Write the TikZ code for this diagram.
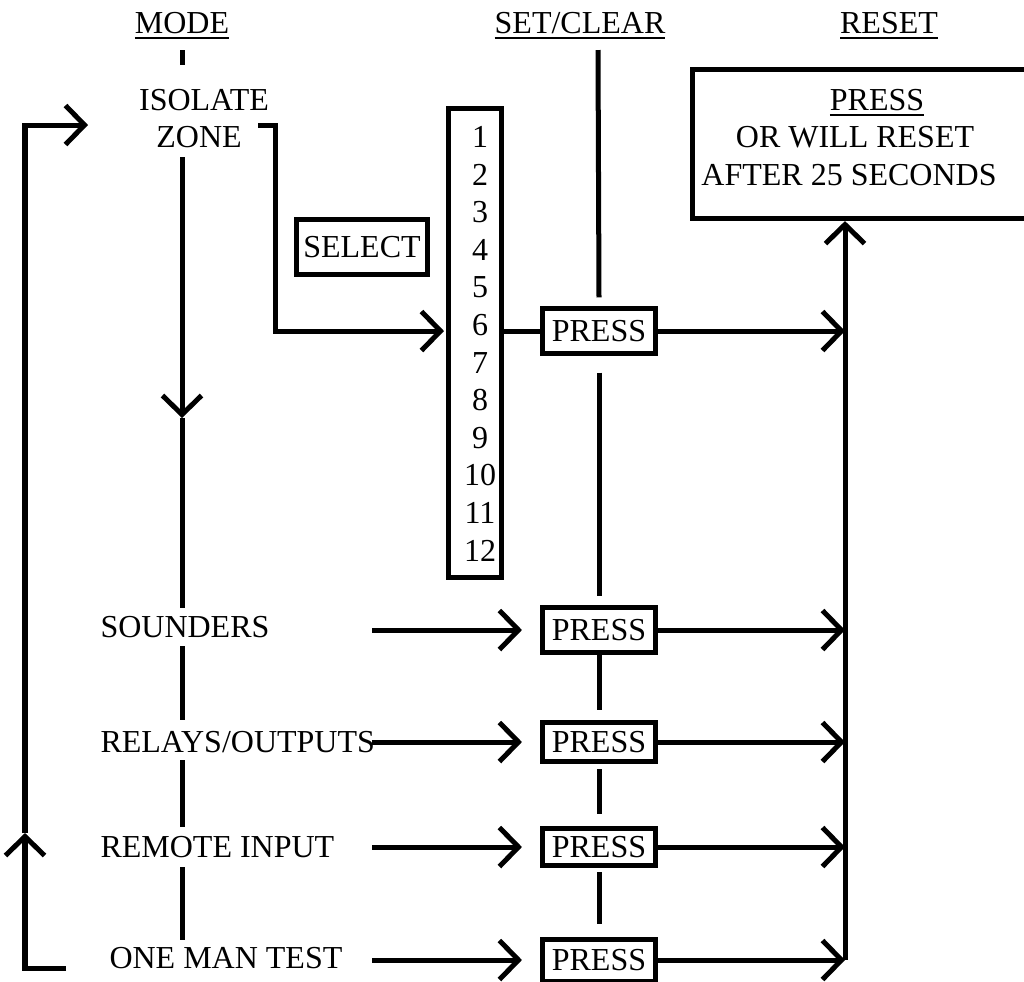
\documentclass[tikz,border=0pt]{standalone}
\usepackage{fontspec}
\setmainfont{Liberation Serif}
\usetikzlibrary{arrows.meta}
\newcommand\myul[1]{\setbox0\hbox{#1}\rlap{\rule[-1.5pt]{\wd0}{0.55pt}}\box0}
\begin{document}
\begin{tikzpicture}[x=0.01cm,y=-0.01cm,line width=0.05cm,
  barb/.tip={Straight Barb[length=0.19cm,width=0.39cm]},
  txt/.style={inner sep=0pt,text height=6pt,text depth=0pt,font=\fontsize{9.1}{10.6}\selectfont},
  boxst/.style={draw,line width=0.05cm,inner sep=0pt},
  pbox/.style={boxst,txt,minimum width=1.13cm}]
\useasboundingbox (0,0) rectangle (1024,981);
% headers
\node[txt] (mode) at (182,23) {\myul{MODE}};
\node[txt] (setclear) at (580,23) {\myul{SET/CLEAR}};
\node[txt] (resetH) at (889,23) {\myul{RESET}};
% mode labels
\node[txt] (iso) at (204,100) {ISOLATE};
\node[txt] (zone) at (199,137) {ZONE};
\node[txt,anchor=west] (snd) at (98,627) {SOUNDERS};
\node[txt,anchor=west] (rel) at (98,742) {RELAYS/OUTPUTS};
\node[txt,anchor=west] (rem) at (98,847) {REMOTE INPUT};
\node[txt,anchor=west] (omt) at (107,958) {ONE MAN TEST};
% select box
\node[boxst,txt,minimum width=1.30cm,minimum height=0.54cm] (sel) at (362,247) {SELECT};
% numbers box
\node[boxst,minimum width=0.53cm,minimum height=4.69cm] (nums) at (475,343) {};
\foreach \n [count=\i] in {1,...,12}
  \node[txt] (n\n) at (480,{137+37.6*(\i-1)}) {\n};
% press boxes
\node[pbox,minimum height=0.44cm] (p1) at (599,331) {PRESS};
\node[pbox,minimum height=0.45cm] (p2) at (599,630) {PRESS};
\node[pbox,minimum height=0.39cm] (p3) at (599,742) {PRESS};
\node[pbox,minimum height=0.37cm] (p4) at (599,847) {PRESS};
\node[pbox,minimum height=0.42cm] (p5) at (599,960) {PRESS};
% reset box
\node[boxst,minimum width=3.375cm,minimum height=1.49cm] (rbox) at (861,144) {};
\node[txt] (rp) at (877,100) {\myul{PRESS}};
\node[txt] (rw) at (855,137) {OR WILL RESET};
\node[txt] (ra) at (849,175) {AFTER 25 SECONDS};
% coordinates
\coordinate (mtop) at (182,50);
\coordinate (mtopend) at (182,65);
\coordinate (m1) at (182,157);
\coordinate (mdown) at (182,418);
\coordinate (m2) at (182,608);
\coordinate (m3) at (182,646);
\coordinate (m4) at (182,720);
\coordinate (m5) at (182,760);
\coordinate (m6) at (182,827);
\coordinate (m7) at (182,867);
\coordinate (m8) at (182,940);
\coordinate (sctop) at (598,50);
\coordinate (zr) at (258,125);
\coordinate (rline) at (845,960);
\coordinate (lb) at (66,968);
\coordinate (lc) at (25,968);
\coordinate (lm) at (25,833);
\coordinate (lt) at (25,125);
\coordinate (lend) at (88,125);
\coordinate (s2) at (372,630);
\coordinate (s3) at (372,742);
\coordinate (s4) at (372,847);
\coordinate (s5) at (372,960);
% mode line
\draw (mtop) -- (mtopend);
\draw[-barb] (m1) -- (mdown);
\draw (mdown) -- (m2);
\draw (m3) -- (m4);
\draw (m5) -- (m6);
\draw (m7) -- (m8);
% set/clear line
\draw (sctop) -- ([yshift=0.09cm]p1.north);
\draw ([yshift=-0.17cm]p1.south) -- ([yshift=0.09cm]p2.north);
\draw (p2.south) -- ([yshift=0.1cm]p3.north);
\draw ([yshift=-0.05cm]p3.south) -- ([yshift=0.12cm]p4.north);
\draw ([yshift=-0.04cm]p4.south) -- ([yshift=0.12cm]p5.north);
% isolate zone to numbers
\draw[-barb,shorten >=0.02cm] (zr) -- ++(17,0) |- (nums.west |- p1);
\draw (nums.east |- p1) -- (p1.west);
% rows
\draw[-barb,shorten >=0.18cm] (s2) -- (p2.west);
\draw[-barb,shorten >=0.18cm] (s3) -- (p3.west);
\draw[-barb,shorten >=0.18cm] (s4) -- (p4.west);
\draw[-barb,shorten >=0.18cm] (s5) -- (p5.west);
\draw[-barb] (p1.east) -- (p1.east -| rline);
\draw[-barb] (p2.east) -- (p2.east -| rline);
\draw[-barb] (p3.east) -- (p3.east -| rline);
\draw[-barb] (p4.east) -- (p4.east -| rline);
\draw[-barb] (p5.east) -- (p5.east -| rline);
% reset line
\draw[-barb] (rline) -- (rline |- rbox.south);
% loop back
\draw[-barb] (lb) -- (lc) -- (lm);
\draw[-barb] (lm) -- (lt) -- (lend);
\end{tikzpicture}
\end{document}
